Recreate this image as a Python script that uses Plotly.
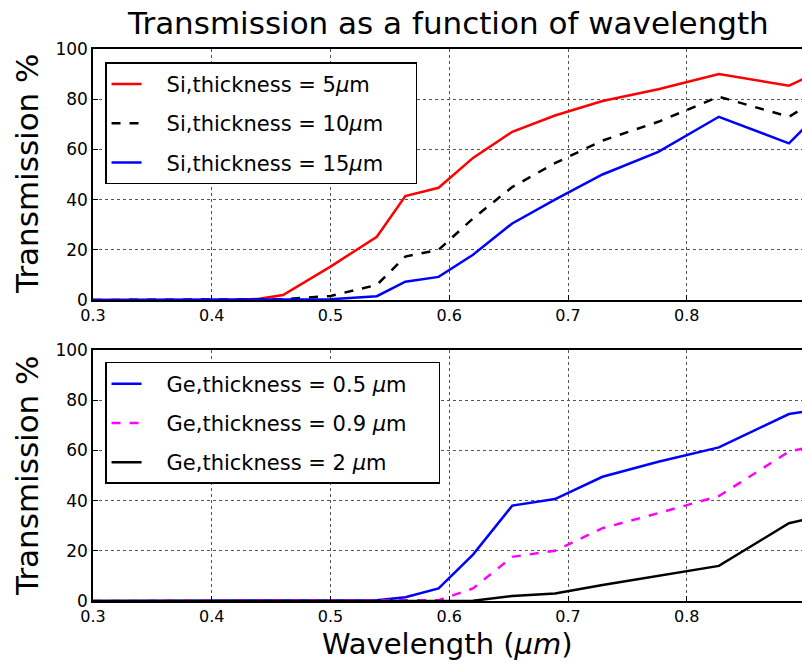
import plotly.graph_objects as go

# Wavelength grid (µm)
wl = [0.30, 0.35, 0.40, 0.42, 0.44, 0.46, 0.50, 0.539, 0.563, 0.591, 0.620, 0.653,
      0.689, 0.729, 0.776, 0.827, 0.886, 0.90]

# Silicon transmission (%)
si_5 = [0, 0, 0, 0.1, 0.5, 2.0, 13.3, 25.2, 41.4, 44.7, 56.6, 67.0,
        73.5, 79.3, 84.0, 90.0, 85.4, 88.5]
si_10 = [0, 0, 0, 0, 0.1, 0.3, 1.6, 6.0, 17.3, 20.0, 32.5, 45.0,
         54.5, 63.5, 71.0, 81.0, 73.0, 77.0]
si_15 = [0, 0, 0, 0, 0, 0, 0.3, 1.5, 7.3, 9.2, 18.0, 30.5,
         40.0, 50.0, 59.0, 73.0, 62.4, 69.0]

# Germanium transmission (%)
ge_05 = [0, 0, 0, 0, 0, 0, 0, 0.3, 1.5, 5.0, 18.5, 38.0,
         40.6, 49.5, 55.5, 61.2, 74.5, 75.5]
ge_09 = [0, 0, 0, 0, 0, 0, 0, 0, 0, 0.3, 5.0, 17.6,
         20.0, 29.0, 35.0, 41.8, 59.5, 61.0]
ge_2 = [0, 0, 0, 0, 0, 0, 0, 0, 0, 0, 0.1, 2.0,
        3.0, 6.4, 10.0, 14.0, 31.0, 32.5]

top_names = ["Si,thickness = 5<i>μ</i>m", "Si,thickness = 10<i>μ</i>m", "Si,thickness = 15<i>μ</i>m"]
bot_names = ["Ge,thickness = 0.5 <i>μ</i>m", "Ge,thickness = 0.9 <i>μ</i>m", "Ge,thickness = 2 <i>μ</i>m"]

FONT = "DejaVu Sans"
PADL = "\u00a0" * 3
PADR = "\u00a0" * 4
fig = go.Figure()

top_series = [(si_5, "#ff0000", "solid"), (si_10, "#000000", "dash"), (si_15, "#0000ff", "solid")]
for i, (ys, col, dash) in enumerate(top_series):
    fig.add_trace(go.Scatter(x=wl, y=ys, mode="lines", name=PADL + top_names[i] + PADR,
                             line=dict(color=col, width=2.5, dash=dash),
                             xaxis="x", yaxis="y", legend="legend", legendgroup=f"t{i}"))

bot_series = [(ge_05, "#0000ff", "solid"), (ge_09, "#ff00ff", "dash"), (ge_2, "#000000", "solid")]
for i, (ys, col, dash) in enumerate(bot_series):
    fig.add_trace(go.Scatter(x=wl, y=ys, mode="lines", name=PADL + bot_names[i] + PADR,
                             line=dict(color=col, width=2.5, dash=dash),
                             xaxis="x2", yaxis="y2", legend="legend2", legendgroup=f"b{i}"))

xticks = [0.3, 0.4, 0.5, 0.6, 0.7, 0.8]
yticks = [0, 20, 40, 60, 80, 100]

common_x = dict(range=[0.3, 0.897], tickvals=xticks, ticktext=[f"{v:.1f}" for v in xticks],
                showgrid=True, gridcolor="#555555", griddash="dot", gridwidth=1,
                showline=True, linecolor="black", linewidth=1.5, mirror=True,
                ticks="inside", ticklen=5, tickcolor="black", zeroline=False,
                tickfont=dict(family=FONT, size=16, color="black"))
common_y = dict(range=[0, 100], tickvals=yticks, ticktext=[str(v) for v in yticks],
                showgrid=True, gridcolor="#555555", griddash="dot", gridwidth=1,
                showline=True, linecolor="black", linewidth=1.5, mirror=False,
                ticks="inside", ticklen=5, tickcolor="black", zeroline=False,
                tickfont=dict(family=FONT, size=17, color="black"))

legend_common = dict(bgcolor="white", bordercolor="black", borderwidth=1.5,
                     font=dict(family=FONT, size=21, color="black"),
                     xanchor="left", yanchor="top", tracegroupgap=9,
                     itemwidth=30)

fig.update_layout(
    width=802, height=664,
    margin=dict(l=93, r=0, t=49, b=63),
    paper_bgcolor="white", plot_bgcolor="white",
    showlegend=True,
    xaxis=dict(domain=[0, 1], anchor="y", **common_x),
    yaxis=dict(domain=[0.5453, 1], anchor="x", **common_y),
    xaxis2=dict(domain=[0, 1], anchor="y2", **common_x),
    yaxis2=dict(domain=[0, 0.4547], anchor="x2", **common_y),
    legend=dict(x=0.017, y=0.976, **legend_common),
    legend2=dict(x=0.017, y=0.433, **legend_common),
    annotations=[
        dict(text="Transmission as a function of wavelength", xref="paper", yref="paper",
             x=0.5, y=1.0, yshift=26, xanchor="center", yanchor="middle", showarrow=False,
             font=dict(family=FONT, size=31, color="black")),
        dict(text="Transmission %", xref="paper", yref="paper", x=0, xshift=-66,
             y=(601 - 174) / 552, xanchor="center", yanchor="middle", textangle=-90,
             showarrow=False, font=dict(family=FONT, size=31, color="black")),
        dict(text="Transmission %", xref="paper", yref="paper", x=0, xshift=-66,
             y=(601 - 476) / 552, xanchor="center", yanchor="middle", textangle=-90,
             showarrow=False, font=dict(family=FONT, size=31, color="black")),
        dict(text="Wavelength (<i>μm</i>)", xref="paper", yref="paper", x=0.5, y=0,
             yshift=-43, xanchor="center", yanchor="middle", showarrow=False,
             font=dict(family=FONT, size=29, color="black")),
    ],
)

fig.write_html("out.html")
